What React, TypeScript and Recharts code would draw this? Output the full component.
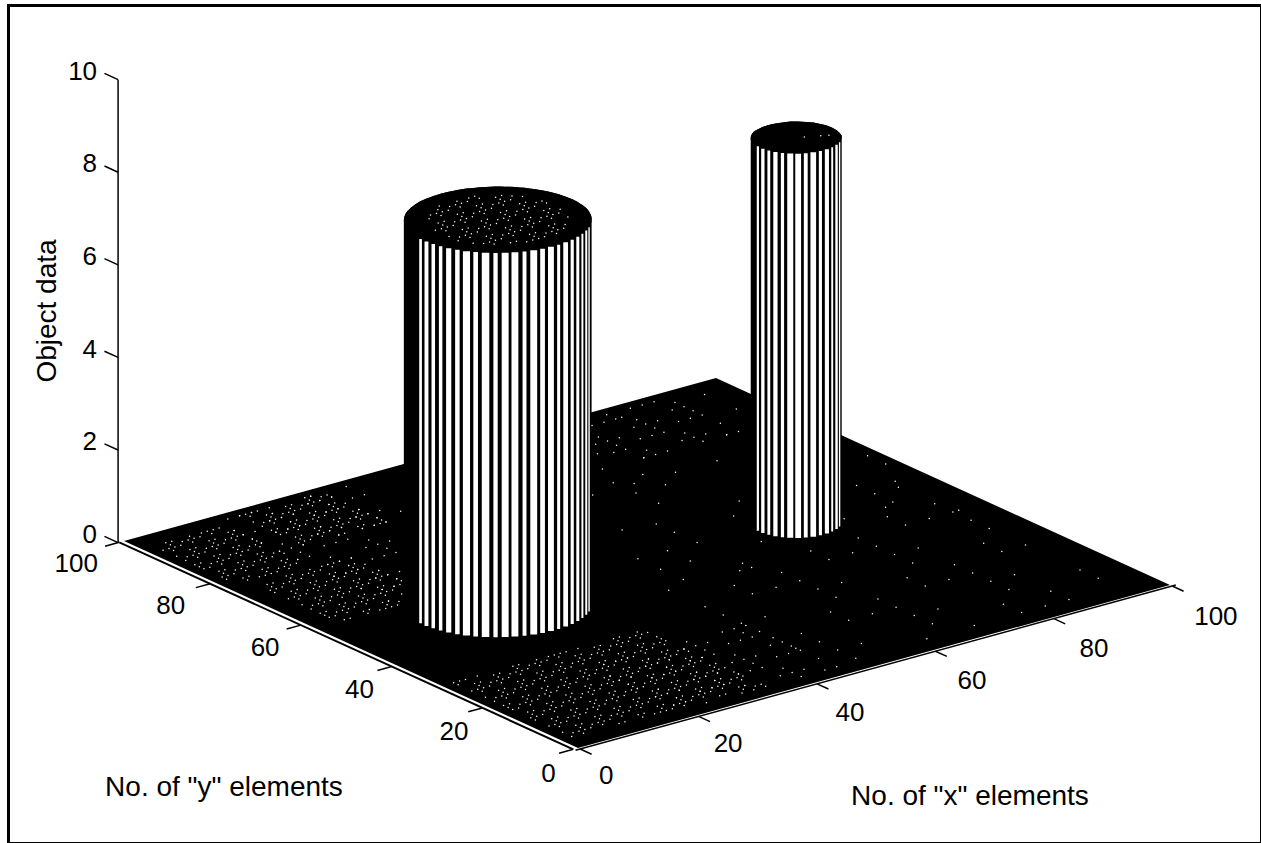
import { Area, ComposedChart, Line, ReferenceDot, Scatter, XAxis, YAxis } from 'recharts';

const CHART_W = 1261;
const CHART_H = 843;
const FONT = '"Liberation Sans", Arial, sans-serif';
const TICK_SIZE = 26;
const TITLE_SIZE = 28;

// axis ticks
const heightTicks = [0, 2, 4, 6, 8, 10];
const gridTicks = [0, 20, 40, 60, 80, 100];

// the two raised objects, in grid elements
const bigColumnCentre = [24.8, 50];
const smallColumnCentre = [75.2, 50];
const columnHeight = 8.3;

// one quarter of each object's outline, offsets from the centre
const bigColumnOutline = [
  [12.6, 0], [12.5, 1.3], [12.3, 2.6], [12, 3.9], [11.5, 5.1], [10.9, 6.3], [10.2, 7.4], [9.4, 8.4],
  [8.4, 9.4], [7.4, 10.2], [6.3, 10.9], [5.1, 11.5], [3.9, 12], [2.6, 12.3], [1.3, 12.5], [0, 12.6],
];
const smallColumnOutline = [
  [6.1, 0], [6, 1.1], [5.7, 2.1], [5.3, 3.1], [4.7, 3.9], [3.9, 4.7], [3.1, 5.3], [2.1, 5.7], [1.1, 6], [0, 6.1],
];

// facets on each side that stay in shadow (left, right)
const bigColumnShadow = [5, 2];
const smallColumnShadow = [3, 1];

// how much of each lit facet prints white, left to right
const bigStripeShare = [
  0.5, 0.6, 0.5, 0.45, 0.62, 0.5, 0.78, 0.5, 0.72, 0.45, 0.72, 0.7, 0.42, 0.76, 0.55, 0.72, 0.42, 0.7, 0.5, 0.62, 0.45,
  0.6, 0.5,
];
const smallStripeShare = [0.5, 0.6, 0.45, 0.62, 0.45, 0.72, 0.78, 0.5, 0.78, 0.45, 0.68, 0.42, 0.6, 0.5];

// places where the surface mesh shows through: xFrom, xTo, yFrom, yTo, step
const meshPatches = [
  [2, 14, 78, 96, 1],
  [18, 32, 84, 98, 1],
  [4, 20, 58, 76, 1],
  [14, 36, 60, 98, 2],
  [2, 34, 4, 30, 1],
  [20, 46, 3, 24, 2],
  [72, 90, 82, 98, 2],
  [46, 96, 4, 40, 4],
  [50, 70, 42, 92, 5],
  [60, 98, 40, 98, 7],
  [86, 98, 44, 70, 4],
];
const meshShowing = [1, 0, 1, 1, 0, 0, 1, 0, 0, 1, 0, 1, 0, 0, 0, 1, 1];
const bigCapMesh = [-9, -8, -7, -6, -5, -4, -3, -2, -1, 0, 1, 2, 3, 4, 5, 6, 7, 8, 9];
const smallCapMesh = [1, 3, 4];

type Pt = { px: number; py: number | null };
type P = { px: number; py: number };

// oblique view of the grid, height goes straight up
const project = (x: number, y: number, z = 0): P => ({
  px: 578 + 5.92 * x - 4.54 * y,
  py: 95 + 1.63 * x + 2.07 * y + 46.3 * z,
});

const planeCorners = [project(0, 0), project(100, 0), project(100, 100), project(0, 100)];

function edgeRange(poly: P[], x: number) {
  let lo = Infinity;
  let hi = -Infinity;
  poly.forEach((a, i) => {
    const b = poly[(i + 1) % poly.length];
    if (x < Math.min(a.px, b.px) - 0.001 || x > Math.max(a.px, b.px) + 0.001) return;
    const ys = Math.abs(a.px - b.px) < 0.001 ? [a.py, b.py] : [a.py + ((x - a.px) / (b.px - a.px)) * (b.py - a.py)];
    ys.forEach((y) => {
      lo = Math.min(lo, y);
      hi = Math.max(hi, y);
    });
  });
  return [lo, hi];
}

const sortedXs = (poly: P[]) => Array.from(new Set(poly.map((p) => +p.px.toFixed(2)))).sort((a, b) => a - b);

function outlineAround(quarter: number[][]) {
  const back = [...quarter].reverse();
  return [
    ...quarter,
    ...back.slice(1).map(([dx, dy]) => [-dx, dy]),
    ...quarter.slice(1).map(([dx, dy]) => [-dx, -dy]),
    ...back.slice(1, -1).map(([dx, dy]) => [dx, -dy]),
  ];
}

function buildColumn(centre: number[], quarter: number[][], shadow: number[], share: number[]) {
  const grid = outlineAround(quarter).map(([dx, dy]) => [centre[0] + dx, centre[1] + dy]);
  const base = grid.map(([x, y]) => project(x, y));
  const top = grid.map(([x, y]) => project(x, y, columnHeight));
  const xs = sortedXs(base);
  const body = xs.map((px) => ({ px, band: [edgeRange(base, px)[0], edgeRange(top, px)[1]] }));
  const cap = xs.map((px) => ({ px, band: edgeRange(top, px) }));

  // walk the side that faces the viewer, left to right
  const n = grid.length;
  const iMin = base.reduce((best, p, i) => (p.px < base[best].px ? i : best), 0);
  const iMax = base.reduce((best, p, i) => (p.px > base[best].px ? i : best), 0);
  const walk = (dir: number) => {
    const out = [iMin];
    while (out[out.length - 1] !== iMax) out.push((out[out.length - 1] + dir + n) % n);
    return out;
  };
  const mean = (ids: number[]) => ids.reduce((s, i) => s + base[i].py, 0) / ids.length;
  const front = mean(walk(1)) < mean(walk(-1)) ? walk(1) : walk(-1);

  const stripes = [];
  for (let i = shadow[0]; i < front.length - 1 - shadow[1]; i++) {
    const a = grid[front[i]];
    const b = grid[front[i + 1]];
    const mx = (a[0] + b[0]) / 2;
    const my = (a[1] + b[1]) / 2;
    const wide = Math.abs(base[front[i + 1]].px - base[front[i]].px);
    stripes.push({
      width: Math.max(1.4, wide * share[(i - shadow[0]) % share.length]),
      points: [project(mx, my), project(mx, my, columnHeight)],
    });
  }
  return { base, body, cap, stripes };
}

const bigColumn = buildColumn(bigColumnCentre, bigColumnOutline, bigColumnShadow, bigStripeShare);
const smallColumn = buildColumn(smallColumnCentre, smallColumnOutline, smallColumnShadow, smallStripeShare);

const hiddenByColumn = (p: P) =>
  [bigColumn, smallColumn].some((c) => {
    const [lo] = edgeRange(c.base, p.px);
    return lo !== Infinity && p.py >= lo - 2;
  });

const meshDots: P[] = [];
meshPatches.forEach(([x0, x1, y0, y1, step]) => {
  for (let x = x0; x <= x1; x += step) {
    for (let y = y0; y <= y1; y += step) {
      if (!meshShowing[(x * 3 + y * 5) % meshShowing.length]) continue;
      const p = project(x, y);
      if (!hiddenByColumn(p)) meshDots.push(p);
    }
  }
});
bigCapMesh.forEach((dx) =>
  bigCapMesh.forEach((dy) => {
    if (dx * dx + dy * dy < 95 && meshShowing[(dx * 3 + dy * 5 + 68) % meshShowing.length]) {
      meshDots.push(project(bigColumnCentre[0] + dx, bigColumnCentre[1] + dy, columnHeight));
    }
  }),
);
smallCapMesh.forEach((d) => meshDots.push(project(smallColumnCentre[0] + d, smallColumnCentre[1] - d / 2, columnHeight)));

const withGaps = (segments: P[][]): Pt[] =>
  segments.flatMap((s) => [...s, { px: s[s.length - 1].px, py: null }]);

const heightAxis = [project(-1, 100, 0), project(-1, 100, 10)];
const yAxisLine = [project(-0.8, 0), project(-0.8, 100)];
const xAxisLine = [project(-0.8, -0.5), project(100.6, -0.5)];
const tickLines = withGaps([
  ...heightTicks.map((z) => [project(-1, 100, z), project(-1, 103, z)]),
  ...gridTicks.map((y) => [project(-0.8, y), project(-3.2, y)]),
  ...gridTicks.map((x) => [project(x, -0.5), project(x, -3)]),
]);

function TextMark({
  x,
  y,
  value,
  size = TICK_SIZE,
  position = 'center',
  angle,
}: {
  x: number;
  y: number;
  value: string;
  size?: number;
  position?: string;
  angle?: number;
}) {
  return (
    <ReferenceDot
      x={x}
      y={y}
      r={0}
      ifOverflow="visible"
      stroke="none"
      label={{ value, position, offset: 0, angle, fontSize: size, fontFamily: FONT, fill: '#000' } as any}
    />
  );
}

const MeshDot = (props: any) => <circle cx={props.cx} cy={props.cy} r={0.75} fill="#fff" />;

export default function App() {
  const columns = [bigColumn, smallColumn];
  const stripes = columns.flatMap((c) => c.stripes);
  return (
    <div style={{ position: 'absolute', left: 0, top: 0, width: CHART_W, height: CHART_H, background: '#fff' }}>
      <div
        style={{
          position: 'absolute',
          left: 7,
          top: 4,
          width: 1250,
          height: 835,
          border: '3px solid #000',
        }}
      />
      <ComposedChart
        width={CHART_W}
        height={CHART_H}
        margin={{ top: 0, right: 0, bottom: 0, left: 0 }}
        style={{ position: 'absolute', left: 0, top: 0 }}
      >
        <XAxis type="number" dataKey="px" domain={[0, CHART_W]} hide allowDataOverflow />
        <YAxis type="number" domain={[0, CHART_H]} hide allowDataOverflow />

        <Area
          data={sortedXs(planeCorners).map((px) => ({ px, band: edgeRange(planeCorners, px) }))}
          dataKey="band"
          fill="#000"
          fillOpacity={1}
          stroke="none"
          isAnimationActive={false}
        />
        {columns.map((c, i) => (
          <Area key={`body${i}`} data={c.body} dataKey="band" fill="#000" fillOpacity={1} stroke="none" isAnimationActive={false} />
        ))}
        {columns.map((c, i) => (
          <Area key={`cap${i}`} data={c.cap} dataKey="band" fill="#000" fillOpacity={1} stroke="none" isAnimationActive={false} />
        ))}

        {stripes.map((s, i) => (
          <Line
            key={`stripe${i}`}
            data={s.points}
            dataKey="py"
            stroke="#fff"
            strokeWidth={s.width}
            dot={false}
            activeDot={false}
            isAnimationActive={false}
          />
        ))}

        <Line data={heightAxis} dataKey="py" stroke="#000" strokeWidth={1.5} dot={false} activeDot={false} isAnimationActive={false} />
        <Line data={yAxisLine} dataKey="py" stroke="#000" strokeWidth={2} dot={false} activeDot={false} isAnimationActive={false} />
        <Line data={xAxisLine} dataKey="py" stroke="#000" strokeWidth={1.5} dot={false} activeDot={false} isAnimationActive={false} />
        <Line data={tickLines} dataKey="py" stroke="#000" strokeWidth={1.5} dot={false} activeDot={false} isAnimationActive={false} />

        <Scatter data={meshDots} dataKey="py" shape={MeshDot} isAnimationActive={false} />

        {heightTicks.map((z) => {
          const p = project(-1, 100, z);
          return <TextMark key={`z${z}`} x={p.px - 21} y={p.py + 9} value={String(z)} position="left" />;
        })}
        {gridTicks.map((t) => {
          const p = project(-5, t * 1.04, -0.35 - 0.0013 * t);
          return <TextMark key={`y${t}`} x={p.px} y={p.py} value={String(t)} />;
        })}
        {gridTicks.map((t) => {
          const p = project(t * 1.03, -6.2, -0.3 - 0.002 * t);
          return <TextMark key={`x${t}`} x={p.px} y={p.py} value={String(t)} />;
        })}

        <TextMark x={224} y={CHART_H - 786} value={'No. of "y" elements'} size={TITLE_SIZE} />
        <TextMark x={970} y={CHART_H - 795} value={'No. of "x" elements'} size={TITLE_SIZE} />
        <TextMark x={46} y={CHART_H - 311} value="Object data" size={TITLE_SIZE} angle={-90} />
      </ComposedChart>
    </div>
  );
}
